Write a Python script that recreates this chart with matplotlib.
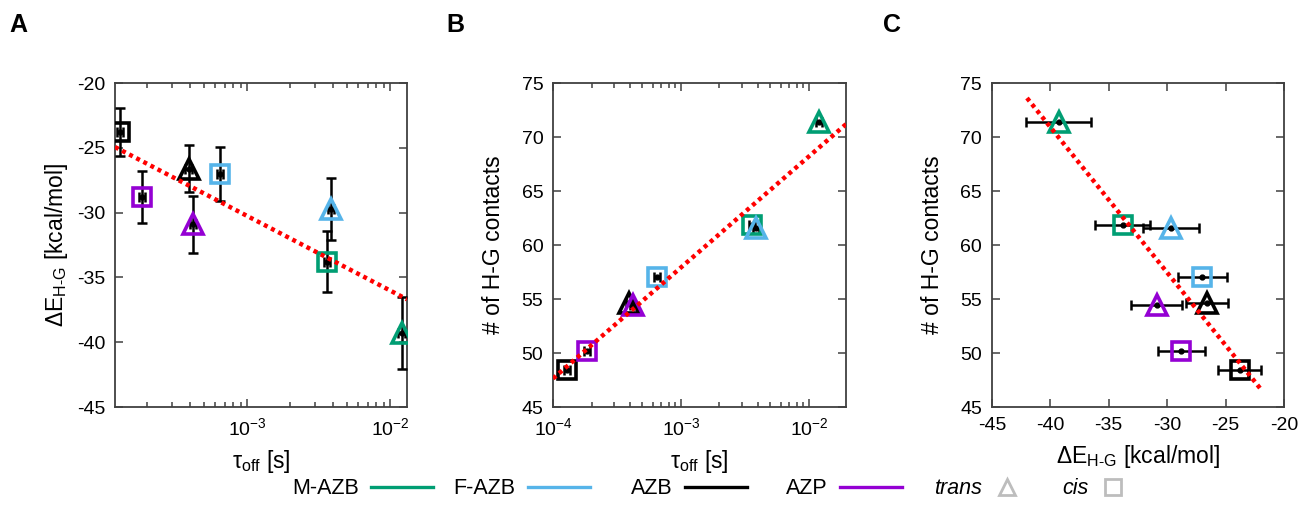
"""
Host-guest panels: binding energy and contacts vs residence time
Saves out.png
"""

import matplotlib.pyplot as plt
from matplotlib.lines import Line2D
from matplotlib.ticker import LogLocator
import numpy as np

plt.rcParams['font.family'] = ['Liberation Sans', 'DejaVu Sans']
plt.rcParams['mathtext.fontset'] = 'custom'
plt.rcParams['mathtext.rm'] = 'Liberation Sans'
plt.rcParams['mathtext.it'] = 'Liberation Sans:italic'
plt.rcParams['mathtext.bf'] = 'Liberation Sans:bold'
plt.rcParams['axes.unicode_minus'] = False

# ------------------------------------------------------------
# data (order: AZB cis, AZP cis, AZB trans, AZP trans,
#              F-AZB cis, M-AZB cis, F-AZB trans, M-AZB trans)
# ------------------------------------------------------------
systems  = ['AZB', 'AZP', 'AZB', 'AZP', 'F-AZB', 'M-AZB', 'F-AZB', 'M-AZB']
isomers  = ['cis', 'cis', 'trans', 'trans', 'cis', 'cis', 'trans', 'trans']
tau_off  = [1.29e-4, 1.85e-4, 3.9e-4, 4.2e-4, 6.45e-4, 3.6e-3, 3.85e-3, 1.2e-2]
tau_err  = [0.07e-4, 0.09e-4, 0.2e-4, 0.2e-4, 0.35e-4, 0.18e-3, 0.2e-3, 0.06e-2]
dE       = [-23.8, -28.8, -26.6, -30.9, -27.0, -33.8, -29.7, -39.3]
dE_err   = [1.85, 2.0, 1.8, 2.2, 2.1, 2.35, 2.4, 2.8]
contacts = [48.4, 50.2, 54.6, 54.4, 57.0, 61.9, 61.6, 71.4]

colors  = {'M-AZB': '#009E73', 'F-AZB': '#56B4E9', 'AZB': '#000000', 'AZP': '#9400D3'}
markers = {'trans': '^', 'cis': 's'}
legend_order = ['M-AZB', 'F-AZB', 'AZB', 'AZP']

FS_TICK, FS_LAB, FS_LEG = 14, 16.5, 15.5
fig = plt.figure(figsize=(13.04, 5.2), dpi=100)
axA = fig.add_axes([0.0882, 0.2173, 0.2239, 0.623])
axB = fig.add_axes([0.4241, 0.2173, 0.2247, 0.623])
axC = fig.add_axes([0.7607, 0.2173, 0.2239, 0.623])


def style(ax):
    for s in ax.spines.values():
        s.set_color('#404040'); s.set_linewidth(1.3)
    ax.tick_params(which='both', direction='in', top=True, right=True,
                   labelsize=FS_TICK, color='#404040', width=1.1)
    ax.tick_params(which='major', length=6, pad=7)
    ax.tick_params(which='minor', length=3.5)


def points(ax, xs, ys, xerr=None, yerr=None):
    ax.errorbar(xs, ys, xerr=xerr, yerr=yerr, fmt='o', ms=3.5, color='black',
                ecolor='black', elinewidth=1.8, capsize=3.5, capthick=1.8, zorder=3)
    for i in range(len(xs)):
        ax.plot(xs[i], ys[i], marker=markers[isomers[i]], ms=13 if isomers[i] == 'cis' else 15,
                mfc='none', mec=colors[systems[i]], mew=2.6, ls='none', zorder=4)


def fit_line(ax, x, y, x0, x1, logx=False):
    xf = np.log10(x) if logx else np.asarray(x)
    k, b = np.polyfit(xf, y, 1)
    xx = np.linspace(np.log10(x0) if logx else x0, np.log10(x1) if logx else x1, 50)
    ax.plot(10**xx if logx else xx, k*xx + b, color='#ff0000', lw=3.2,
            ls=(0, (0.9, 0.9)), zorder=5)


tau_err_pair = [tau_err, tau_err]

# ---------------- A ----------------
xlimA = (1.19e-4, 1.31e-2)
points(axA, tau_off, dE, xerr=tau_err_pair, yerr=dE_err)
fit_line(axA, tau_off, dE, *xlimA, logx=True)
axA.set_xscale('log'); axA.set_xlim(*xlimA); axA.set_ylim(-45, -20)
axA.set_yticks(np.arange(-45, -19, 5))
axA.set_ylabel(r'ΔE$_{\mathrm{H‑G}}$ [kcal/mol]', fontsize=FS_LAB, labelpad=5)
axA.set_xlabel(r'τ$_{\mathrm{off}}$ [s]', fontsize=FS_LAB, labelpad=7)

# ---------------- B ----------------
xlimB = (1e-4, 1.95e-2)
points(axB, tau_off, contacts, xerr=tau_err_pair)
fit_line(axB, tau_off, contacts, *xlimB, logx=True)
axB.set_xscale('log'); axB.set_xlim(*xlimB); axB.set_ylim(45, 75)
axB.set_yticks(np.arange(45, 76, 5))
axB.set_ylabel('# of H-G contacts', fontsize=FS_LAB, labelpad=12)
axB.set_xlabel(r'τ$_{\mathrm{off}}$ [s]', fontsize=FS_LAB, labelpad=7)

# ---------------- C ----------------
points(axC, dE, contacts, xerr=dE_err)
lo = min(np.array(dE) - np.array(dE_err)) + 0.1
hi = max(np.array(dE) + np.array(dE_err)) + 0.1
fit_line(axC, dE, contacts, lo, hi)
axC.set_xlim(-45, -20); axC.set_ylim(45, 75)
axC.set_xticks(np.arange(-45, -19, 5)); axC.set_yticks(np.arange(45, 76, 5))
axC.set_ylabel('# of H-G contacts', fontsize=FS_LAB, labelpad=12)
axC.set_xlabel(r'ΔE$_{\mathrm{H‑G}}$ [kcal/mol]', fontsize=FS_LAB, labelpad=7)

for ax in (axA, axB, axC):
    style(ax)
for ax in (axA, axB):
    ax.xaxis.set_minor_locator(LogLocator(base=10, subs=np.arange(2, 10), numticks=12))

for lab, x in zip(['A', 'B', 'C'], [0.007, 0.342, 0.677]):
    fig.text(x, 0.952, lab, fontsize=18, fontweight='bold', va='center')

# ---------------- legend: gnuplot-style, text right-aligned before sample ----------------
leg_y = 1 - 489/520
line_ends = [433, 590, 747, 902]        # px, right end of each line sample
for name, xe in zip(legend_order, line_ends):
    h = Line2D([], [], color=colors[name], lw=2.4)
    fig.legend([h], [name], loc='center right', bbox_to_anchor=(xe/1304, leg_y),
               frameon=False, markerfirst=False, fontsize=FS_LEG, borderpad=0,
               borderaxespad=0, handlelength=2.9, handletextpad=0.55)
sym_ends = [1020, 1126]
for iso, xe in zip(['trans', 'cis'], sym_ends):
    h = Line2D([], [], marker=markers[iso], ms=12 if iso == 'trans' else 11, mfc='none',
               mec='#bdbdbd', mew=2.0, ls='none')
    lg = fig.legend([h], [iso], loc='center right', bbox_to_anchor=(xe/1304, leg_y),
                    frameon=False, markerfirst=False, fontsize=FS_LEG, borderpad=0,
                    borderaxespad=0, handlelength=1.2, handletextpad=0.55)
    lg.get_texts()[0].set_style('italic')

fig.savefig('out.png', dpi=100)
